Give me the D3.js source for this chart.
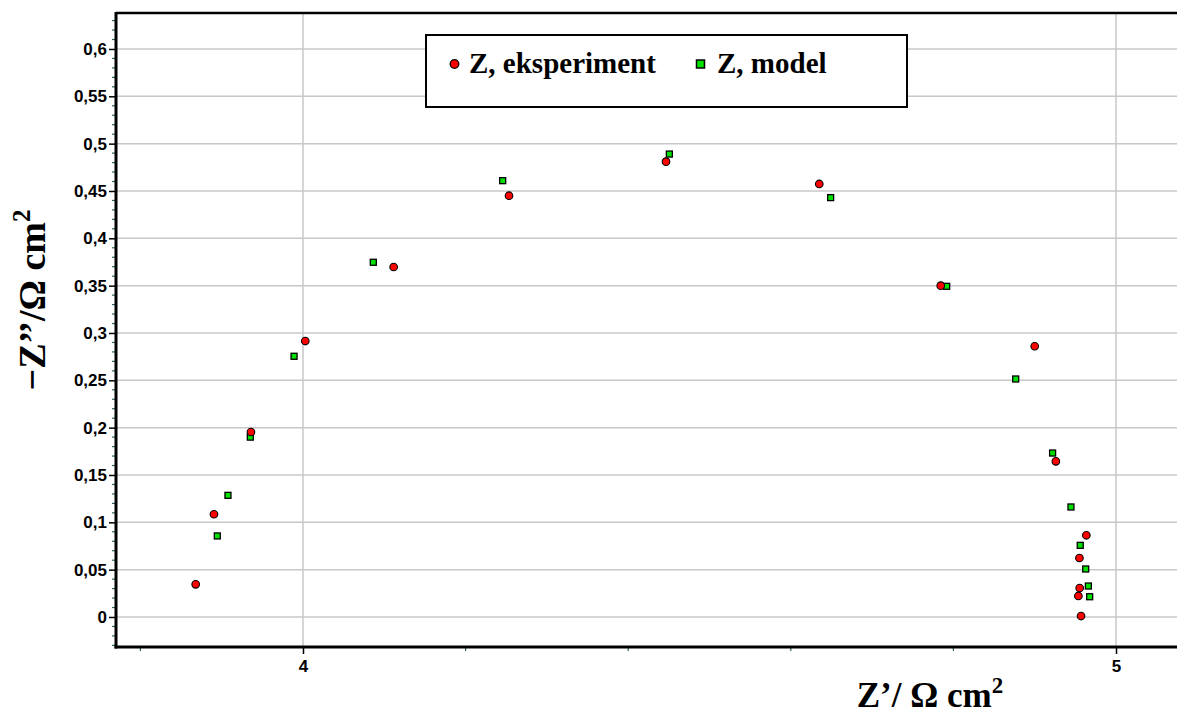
<!DOCTYPE html>
<html>
<head>
<meta charset="utf-8">
<script src="https://cdn.jsdelivr.net/npm/d3@7"></script>
<style>
  html, body { margin: 0; padding: 0; background: #fff; }
  svg { display: block; }
</style>
</head>
<body>
<svg id="chart" width="1177" height="715"></svg>
<script>
// ---- data ----
const expX = [3.868, 3.8905, 3.936, 4.0028, 4.1115, 4.2534, 4.4465, 4.635, 4.7844, 4.900, 4.926, 4.9635, 4.955, 4.9553, 4.9537, 4.957];
const expY = [0.0345, 0.1085, 0.1954, 0.2915, 0.3697, 0.445, 0.481, 0.4574, 0.350, 0.286, 0.1644, 0.0863, 0.0623, 0.0306, 0.0222, 0.001];
const modX = [3.8946, 3.9077, 3.9352, 3.989, 4.0865, 4.2456, 4.4506, 4.649, 4.7917, 4.8766, 4.922, 4.9446, 4.956, 4.9627, 4.966, 4.9676];
const modY = [0.0856, 0.1285, 0.190, 0.2754, 0.3747, 0.4609, 0.489, 0.443, 0.3493, 0.2514, 0.1732, 0.1162, 0.0757, 0.0507, 0.0327, 0.0214];
const xTickValues = [4, 5];
const xMinorValues = [3.8, 4.2, 4.4, 4.6, 4.8];
const yTickValues = [0, 0.05, 0.1, 0.15, 0.2, 0.25, 0.3, 0.35, 0.4, 0.45, 0.5, 0.55, 0.6];
const yTickLabels = ["0", "0,05", "0,1", "0,15", "0,2", "0,25", "0,3", "0,35", "0,4", "0,45", "0,5", "0,55", "0,6"];
const legendLabels = ["Z, eksperiment", "Z, model"];
const xTitle = "Z’/ Ω cm";
const yTitle = "−Z’’/Ω cm";

// ---- layout ----
const L = 116, T = 13, R = 1190, B = 647;
const svg = d3.select("#chart");
const x = d3.scaleLinear().domain([3.77, 5.091]).range([L, R]);
const y = d3.scaleLinear().domain([-0.0317, 0.638]).range([B, T]);

const gridColor = "#c8c8c8";
const minorColor = "#2a6464";

// gridlines
svg.append("g").selectAll("line").data(yTickValues).join("line")
  .attr("x1", L).attr("x2", R)
  .attr("y1", d => y(d)).attr("y2", d => y(d))
  .attr("stroke", gridColor).attr("stroke-width", 1.5);
svg.append("g").selectAll("line").data(xTickValues).join("line")
  .attr("x1", d => x(d)).attr("x2", d => x(d))
  .attr("y1", T).attr("y2", B)
  .attr("stroke", gridColor).attr("stroke-width", 1.5);

// minor ticks Y (every 0.01)
const yMinor = d3.range(-3, 64).map(i => i / 100).filter(v => Math.abs(v * 20 - Math.round(v * 20)) > 1e-6);
svg.append("g").selectAll("line").data(yMinor).join("line")
  .attr("x1", L - 4).attr("x2", L)
  .attr("y1", d => y(d)).attr("y2", d => y(d))
  .attr("stroke", minorColor).attr("stroke-width", 1.2);
// minor ticks X
svg.append("g").selectAll("line").data(xMinorValues).join("line")
  .attr("x1", d => x(d)).attr("x2", d => x(d))
  .attr("y1", B).attr("y2", B + 4)
  .attr("stroke", minorColor).attr("stroke-width", 1.2);

// major axes with d3 axis
const yAxis = d3.axisLeft(y).tickValues(yTickValues).tickSize(7).tickPadding(2)
  .tickFormat((d, i) => yTickLabels[i]);
const gy = svg.append("g").attr("transform", `translate(${L},0)`).call(yAxis);
gy.select(".domain").remove();
gy.selectAll(".tick line").attr("stroke", "#000").attr("stroke-width", 1.5);
gy.selectAll(".tick text").attr("font-family", "Liberation Sans, Arial, sans-serif")
  .attr("font-weight", "bold").attr("font-size", 17).attr("fill", "#000");

const xAxis = d3.axisBottom(x).tickValues(xTickValues).tickSize(7).tickPadding(6)
  .tickFormat(d3.format("d"));
const gx = svg.append("g").attr("transform", `translate(0,${B})`).call(xAxis);
gx.select(".domain").remove();
gx.selectAll(".tick line").attr("stroke", "#000").attr("stroke-width", 1.5);
gx.selectAll(".tick text").attr("font-family", "Liberation Sans, Arial, sans-serif")
  .attr("font-weight", "bold").attr("font-size", 17).attr("fill", "#000");

// frame lines
svg.append("line").attr("x1", L).attr("x2", 1177).attr("y1", T).attr("y2", T)
  .attr("stroke", "#000").attr("stroke-width", 2.5);
svg.append("line").attr("x1", L).attr("x2", L).attr("y1", T - 1).attr("y2", B + 1.5)
  .attr("stroke", "#000").attr("stroke-width", 3);
svg.append("line").attr("x1", L - 1.5).attr("x2", 1177).attr("y1", B).attr("y2", B)
  .attr("stroke", "#000").attr("stroke-width", 3);

// data points
const modData = modX.map((v, i) => ({ x: v, y: modY[i] }));
const expData = expX.map((v, i) => ({ x: v, y: expY[i] }));
const sq = 6;
svg.append("g").selectAll("rect").data(modData).join("rect")
  .attr("x", d => x(d.x) - sq / 2).attr("y", d => y(d.y) - sq / 2)
  .attr("width", sq).attr("height", sq)
  .attr("fill", "#00e000").attr("stroke", "#000").attr("stroke-width", 1.3);
svg.append("g").selectAll("circle").data(expData).join("circle")
  .attr("cx", d => x(d.x)).attr("cy", d => y(d.y)).attr("r", 3.8)
  .attr("fill", "#ff0000").attr("stroke", "#000").attr("stroke-width", 1.1);

// legend
const lg = svg.append("g");
lg.append("rect").attr("x", 426).attr("y", 35).attr("width", 481).attr("height", 72)
  .attr("fill", "#fff").attr("stroke", "#000").attr("stroke-width", 2);
lg.append("circle").attr("cx", 454.5).attr("cy", 64).attr("r", 4.3)
  .attr("fill", "#ff0000").attr("stroke", "#000").attr("stroke-width", 1.3);
lg.append("text").attr("x", 469).attr("y", 73).text(legendLabels[0])
  .attr("font-family", "Liberation Serif, Times New Roman, serif").attr("font-weight", "bold")
  .attr("font-size", 29).attr("fill", "#000");
lg.append("rect").attr("x", 696.5).attr("y", 60).attr("width", 8).attr("height", 8)
  .attr("fill", "#00e000").attr("stroke", "#000").attr("stroke-width", 1.5);
lg.append("text").attr("x", 717).attr("y", 73).text(legendLabels[1])
  .attr("font-family", "Liberation Serif, Times New Roman, serif").attr("font-weight", "bold")
  .attr("font-size", 29).attr("fill", "#000");

// axis titles
const xt = svg.append("text").attr("x", 930).attr("y", 707).attr("text-anchor", "middle")
  .attr("font-family", "Liberation Serif, Times New Roman, serif").attr("font-weight", "bold")
  .attr("font-size", 35).attr("fill", "#000");
xt.append("tspan").text(xTitle);
xt.append("tspan").attr("font-size", 23).attr("dy", -14).text("2");

const yt = svg.append("text").attr("transform", "translate(45,300) rotate(-90)")
  .attr("text-anchor", "middle")
  .attr("font-family", "Liberation Serif, Times New Roman, serif").attr("font-weight", "bold")
  .attr("font-size", 38).attr("fill", "#000");
yt.append("tspan").text(yTitle);
yt.append("tspan").attr("font-size", 25).attr("dy", -15).text("2");
</script>
</body>
</html>
